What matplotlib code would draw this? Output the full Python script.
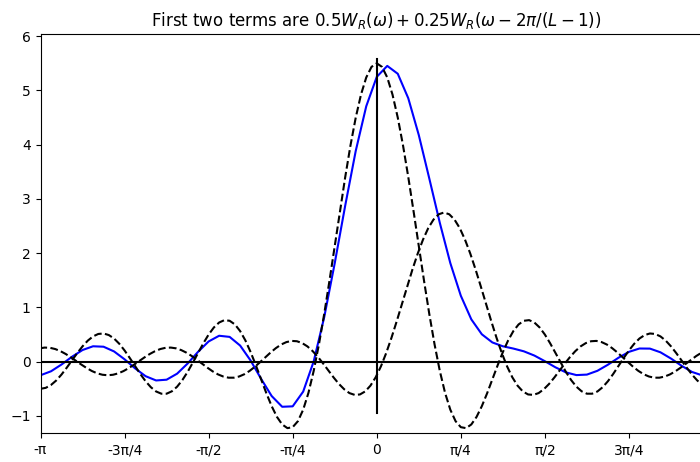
"""Hann window construction: first two terms of the spectrum, 0.5*W_R(w) + 0.25*W_R(w - 2pi/(L-1))."""

import numpy as np
import matplotlib
matplotlib.use("Agg")
import matplotlib.pyplot as plt

# 0.5 * W_R(w), sampled at w = k*pi/64, k = -64..64
HALF_WR = [
    -0.500, -0.482, -0.429, -0.346, -0.237, -0.110, 0.025, 0.159, 0.283, 0.388, 0.466, 0.511, 0.520,
    0.491, 0.427, 0.330, 0.207, 0.067, -0.081, -0.227, -0.360, -0.470, -0.549, -0.590, -0.590, -0.546,
    -0.461, -0.339, -0.188, -0.016, 0.164, 0.340, 0.500, 0.631, 0.722, 0.766, 0.754, 0.687, 0.564,
    0.391, 0.176, -0.069, -0.328, -0.584, -0.820, -1.017, -1.157, -1.225, -1.207, -1.096, -0.884,
    -0.574, -0.169, 0.321, 0.880, 1.491, 2.131, 2.777, 3.404, 3.986, 4.499, 4.923, 5.239, 5.434,
    5.500,
    5.434, 5.239, 4.923, 4.499, 3.986, 3.404, 2.777, 2.131, 1.491, 0.880, 0.321, -0.169, -0.574,
    -0.884, -1.096, -1.207, -1.225, -1.157, -1.017, -0.820, -0.584, -0.328, -0.069, 0.176, 0.391,
    0.564, 0.687, 0.754, 0.766, 0.722, 0.631, 0.500, 0.340, 0.164, -0.016, -0.188, -0.339, -0.461,
    -0.546, -0.590, -0.590, -0.549, -0.470, -0.360, -0.227, -0.081, 0.067, 0.207, 0.330, 0.427,
    0.491, 0.520, 0.511, 0.466, 0.388, 0.283, 0.159, 0.025, -0.110, -0.237, -0.346, -0.429, -0.482,
    -0.500,
]

# 0.25 * W_R(w - 2pi/(L-1)), sampled at w = pi/5 + j*pi/64, j = -77..52
QUARTER_WR_SHIFT = [
    0.246, 0.260, 0.256, 0.233, 0.194, 0.142, 0.080, 0.012, -0.055, -0.118, -0.173, -0.215, -0.241,
    -0.250, -0.241, -0.215, -0.173, -0.118, -0.055, 0.012, 0.080, 0.142, 0.194, 0.233, 0.256, 0.260,
    0.246, 0.213, 0.165, 0.104, 0.033, -0.041, -0.113, -0.180, -0.235, -0.274, -0.295, -0.295,
    -0.273, -0.231, -0.170, -0.094, -0.008, 0.082, 0.170, 0.250, 0.316, 0.361, 0.383, 0.377, 0.343,
    0.282, 0.195, 0.088, -0.034, -0.164, -0.292, -0.410, -0.508, -0.579, -0.612, -0.604, -0.548,
    -0.442, -0.287, -0.085, 0.160, 0.440, 0.745, 1.066, 1.389, 1.702, 1.993, 2.249, 2.462, 2.619,
    2.717, 2.750,
    2.717, 2.619, 2.462, 2.249, 1.993, 1.702, 1.389, 1.066, 0.745, 0.440, 0.160, -0.085, -0.287,
    -0.442, -0.548, -0.604, -0.612, -0.579, -0.508, -0.410, -0.292, -0.164, -0.034, 0.088, 0.195,
    0.282, 0.343, 0.377, 0.383, 0.361, 0.316, 0.250, 0.170, 0.082, -0.008, -0.094, -0.170, -0.231,
    -0.273, -0.295, -0.295, -0.274, -0.235, -0.180, -0.113, -0.041, 0.033, 0.104, 0.165, 0.213,
    0.246, 0.260,
]
SHIFT_J_FIRST, SHIFT_J_LAST = -77, 52

# sum of the two terms on the coarse grid w = k*pi/32, k = -32..32
SUM_TERMS = [
    -0.250, -0.177, -0.052, 0.091, 0.215, 0.284, 0.276, 0.189, 0.044, -0.123, -0.267, -0.346,
    -0.332, -0.221, -0.034, 0.183, 0.373, 0.478, 0.457, 0.297, 0.020, -0.318, -0.633, -0.831,
    -0.823, -0.551, 0.006, 0.820, 1.814, 2.879, 3.885, 4.708,
    5.250,
    5.452, 5.307, 4.856, 4.178, 3.377, 2.560, 1.818, 1.216, 0.780, 0.505, 0.355, 0.284, 0.242,
    0.191, 0.113, 0.009, -0.103, -0.197, -0.247, -0.238, -0.168, -0.056, 0.072, 0.181, 0.243,
    0.241, 0.173, 0.058, -0.074, -0.189, -0.254, -0.250,
]

# the pi tick sits past the cropped right edge, so it is left out
TICK_POS = [-1, -0.75, -0.5, -0.25, 0, 0.25, 0.5, 0.75]
TICK_LABELS = ["-π", "-3π/4", "-π/2", "-π/4", "0", "π/4", "π/2", "3π/4"]
VLINE_Y = [-0.95, 5.57]


def main():
    w_fine = np.linspace(-np.pi, np.pi, len(HALF_WR))
    w_shift = np.pi / 5 + np.arange(SHIFT_J_FIRST, SHIFT_J_LAST + 1) * np.pi / 64
    w_coarse = np.linspace(-np.pi, np.pi, len(SUM_TERMS))

    fig = plt.figure(figsize=(7, 4.62), dpi=100)
    # axes run a bit past the right edge of the figure, like the original crop
    ax = fig.add_axes([40.5 / 700, 28.7 / 462, 672.5 / 700, 399.3 / 462])

    ax.plot(w_coarse, SUM_TERMS, color="b", lw=1.5)
    ax.plot(w_fine, HALF_WR, "k--", lw=1.5)
    ax.plot(w_shift, QUARTER_WR_SHIFT, "k--", lw=1.5)
    ax.axhline(0, color="k", lw=1.5)
    ax.plot([0, 0], VLINE_Y, color="k", lw=1.5)

    ax.set_xlim(-np.pi, np.pi)
    ax.set_ylim(-1.32, 6.04)
    ax.set_xticks(np.array(TICK_POS) * np.pi)
    ax.set_xticklabels(TICK_LABELS)
    ax.set_title(r"First two terms are $0.5W_R(\omega) + 0.25W_R(\omega - 2\pi/(L-1))$")

    fig.savefig("out.png", dpi=100)


if __name__ == "__main__":
    main()
